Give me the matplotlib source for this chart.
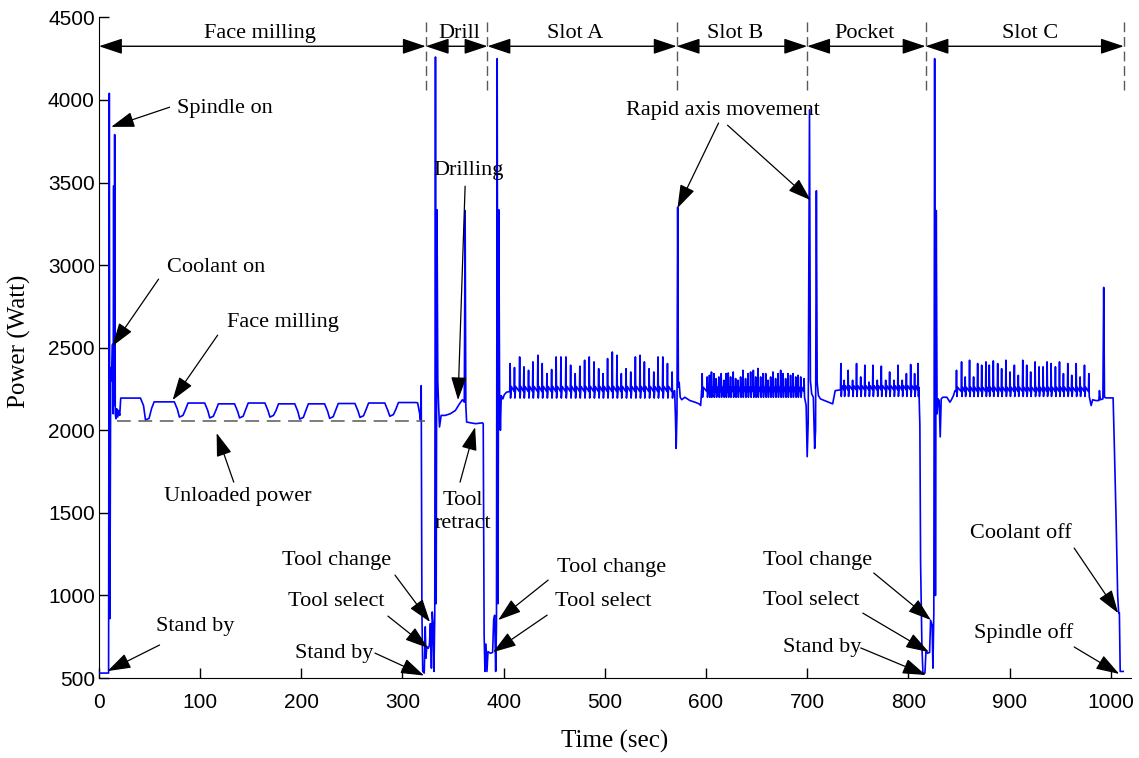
import matplotlib
matplotlib.use("Agg")
import matplotlib.pyplot as plt
import numpy as np

# ---- data (time in s, power in W) ----
startup = [(0, 530), (9.5, 530), (10.2, 4040), (10.8, 860), (11.6, 2380), (12.4, 2300),
           (13.4, 2520), (14.0, 2100), (14.5, 3480), (15.0, 2150), (15.5, 3790), (16.1, 2100),
           (16.8, 2070), (17.6, 2130), (18.5, 2080), (19.5, 2120), (20.5, 2090)]

fm_dip_t = [48, 81.5, 111.5, 141, 171, 200.5, 230, 260, 289.5]
fm_dip_p = [2062, 2080, 2075, 2075, 2080, 2068, 2072, 2078, 2085]
fm_level = [2195, 2172, 2165, 2160, 2165, 2160, 2160, 2162, 2165, 2168]
fm_t0, fm_t1 = 21.5, 313.5

drill_seg = [(315.0, 2165), (317.0, 2100), (317.8, 2060), (318.5, 2270), (319.2, 900), (320.0, 540),
             (321.5, 530), (322.5, 810), (323.2, 620), (324.0, 690), (325.6, 680), (326.6, 700),
             (327.6, 830), (328.6, 560), (329.4, 900), (330.3, 820), (331.1, 540), (331.9, 880),
             (332.6, 4260), (333.3, 950), (334.1, 3335), (334.9, 2300), (335.7, 2150), (336.6, 2020),
             (338.2, 2090), (342.2, 2090), (347.2, 2100), (352.3, 2120), (356.3, 2160), (359.3, 2185),
             (361.1, 2170), (361.9, 3330), (362.6, 2150), (363.4, 2050), (367.4, 2045), (372.4, 2040),
             (379.0, 2045), (379.8, 2040), (380.7, 760), (381.5, 540), (382.5, 706), (383.5, 540),
             (384.5, 660), (387.0, 650), (389.1, 655), (390.1, 850), (391.1, 880), (392.1, 540),
             (392.9, 820), (393.6, 4250), (394.4, 950), (395.2, 3335), (396.0, 2200), (396.8, 2000),
             (397.6, 2210), (399.2, 2190), (400.6, 2215), (402.7, 2230)]

slotA_t = [406.4, 410.7, 415.8, 420.0, 424.6, 428.9, 433.8, 438.1, 442.8, 447.4, 451.9, 456.6,
           461.5, 466.2, 470.7, 475.3, 480.0, 484.6, 489.3, 493.9, 498.2, 502.7, 507.4, 512.0,
           516.3, 521.0, 525.6, 530.2, 534.8, 539.1, 543.8, 548.4, 552.6, 557.3, 561.9, 566.5]
slotA_p = [2404, 2380, 2444, 2384, 2363, 2414, 2454, 2404, 2343, 2368, 2444, 2444,
           2444, 2394, 2343, 2388, 2424, 2444, 2414, 2373, 2343, 2434, 2474, 2454,
           2343, 2373, 2353, 2444, 2454, 2414, 2373, 2353, 2444, 2444, 2404, 2353]

a_to_b = [(567.4, 2230), (569.0, 2240), (569.8, 2080), (570.5, 1890), (571.3, 2100), (572.0, 3350),
          (572.7, 2260), (573.5, 2290), (574.5, 2200), (576.0, 2185), (579.1, 2200), (584.1, 2180),
          (589.1, 2170), (593.2, 2160), (594.7, 2150), (595.7, 2240)]

slotB_t = [596.2, 601.1, 603.4, 605.4, 607.8, 610.1, 612.7, 615.0, 617.6, 619.7, 622.0, 624.3,
           626.9, 629.3, 631.6, 634.2, 636.5, 639.1, 641.5, 644.1, 646.8, 649.1, 651.3, 654.0,
           656.4, 659.0, 661.3, 663.9, 666.2, 668.8, 671.2, 673.8, 676.1, 678.7, 681.0, 683.6,
           686.0, 688.7, 690.9, 693.6, 697.0]
slotB_p = [2343, 2323, 2333, 2353, 2343, 2313, 2323, 2343, 2303, 2343, 2347, 2323,
           2353, 2313, 2303, 2323, 2363, 2313, 2343, 2353, 2363, 2323, 2374, 2323,
           2343, 2343, 2303, 2323, 2353, 2313, 2343, 2363, 2343, 2313, 2343, 2333,
           2343, 2323, 2333, 2323, 2313]

b_to_pocket = [(699.0, 2150), (700.0, 1840), (701.0, 2050), (702.3, 3940), (703.2, 2300),
               (704.5, 2220), (706.1, 2200), (707.4, 1890), (708.3, 2000), (709.1, 3450),
               (709.9, 2290), (711.1, 2210), (713.1, 2190), (717.1, 2180), (721.2, 2170),
               (725.2, 2160), (727.7, 2240)]

pocket_t = [733.3, 736.6, 740.5, 744.9, 748.8, 752.9, 757.0, 761.1, 765.0, 769.3,
            773.3, 777.6, 781.5, 785.8, 789.8, 794.0, 798.1, 802.3, 806.2, 809.6]
pocket_p = [2404, 2303, 2363, 2303, 2404, 2323, 2394, 2292, 2394, 2303,
            2388, 2303, 2353, 2303, 2394, 2303, 2343, 2398, 2343, 2404]

pocket_to_c = [(810.4, 2260), (811.4, 2030), (812.1, 1200), (813.4, 700), (814.4, 530), (816.4, 530),
               (817.4, 660), (818.9, 650), (821.0, 655), (822.0, 850), (823.5, 820), (824.3, 560),
               (825.2, 900), (826.0, 4250), (826.8, 1000), (827.6, 3330), (828.4, 2100), (829.5, 2190),
               (830.5, 2180), (831.5, 1960), (832.5, 2190), (834.1, 2200), (838.1, 2200), (841.1, 2170),
               (842.6, 2185), (844.6, 2210), (846.1, 2240)]

slotC_t = [847.6, 852.6, 856.2, 860.5, 864.5, 868.5, 872.5, 876.7, 880.0, 884.0, 888.3,
           892.2, 896.5, 900.5, 904.8, 908.7, 913.1, 917.0, 920.9, 925.3, 929.2, 933.2,
           937.2, 941.1, 945.4, 949.4, 953.3, 957.6, 961.5, 965.9, 969.8, 974.1, 978.4]
slotC_p = [2363, 2414, 2323, 2424, 2323, 2404, 2394, 2414, 2394, 2420, 2404,
           2373, 2424, 2353, 2394, 2333, 2424, 2394, 2353, 2414, 2384, 2384,
           2414, 2404, 2384, 2414, 2343, 2404, 2333, 2404, 2323, 2394, 2343]

c_end = [(980.7, 2150), (982.2, 2185), (985.2, 2180), (988.3, 2180), (988.9, 2240), (989.8, 2185),
         (992.3, 2190), (993.1, 2865), (993.9, 2200), (995.3, 2196), (999.3, 2196), (1002.4, 2196),
         (1003.4, 1960), (1005.4, 1450), (1006.9, 1000), (1007.9, 895), (1008.6, 895),
         (1009.4, 540), (1012.4, 540)]

# section boundaries and names
bounds = [0, 323, 384, 571, 700, 817, 1013]
sections = ["Face milling", "Drill", "Slot A", "Slot B", "Pocket", "Slot C"]
section_x = [159, 356, 471, 629, 757, 920]


def spike_train(times, peaks, base, dip, bump):
    pts = []
    for i, (t, pk) in enumerate(zip(times, peaks)):
        pts += [(t - 0.4, base), (t, pk), (t + 0.4, dip)]
        if i < len(times) - 1:
            pts.append((t + 1.2, bump))
    return pts


def face_milling():
    pts = [(fm_t0, fm_level[0])]
    for i, (c, low) in enumerate(zip(fm_dip_t, fm_dip_p)):
        pts += [(c - 7, fm_level[i]), (c - 4, fm_level[i] - 45), (c - 2, low),
                (c + 1.5, low + 10), (c + 4, fm_level[i + 1] - 40), (c + 6.5, fm_level[i + 1])]
    pts.append((fm_t1, fm_level[-1]))
    return pts


trace = (startup + face_milling() + drill_seg
         + spike_train(slotA_t, slotA_p, 2235, 2195, 2265) + a_to_b
         + spike_train(slotB_t, slotB_p, 2235, 2200, 2260) + b_to_pocket
         + spike_train(pocket_t, pocket_p, 2245, 2205, 2270) + pocket_to_c
         + spike_train(slotC_t, slotC_p, 2235, 2205, 2260) + c_end)
t, p = np.array(trace).T

# ---- figure ----
serif = ["Liberation Serif", "DejaVu Serif"]
sans = ["Liberation Sans", "DejaVu Sans"]

fig = plt.figure(figsize=(11.39, 7.58), dpi=100)
ax = fig.add_axes([0.0869, 0.1055, 0.906, 0.8716])

ax.plot(t, p, color="#0000ff", lw=1.2, zorder=3)
ax.plot([17.5, 322], [2056, 2056], ls=(0, (9, 5)), color="0.35", lw=1.1, zorder=4)

ax.set_xlim(0, 1020)
ax.set_ylim(500, 4500)
ax.set_xticks(range(0, 1001, 100))
ax.set_yticks(range(500, 4501, 500))
for s in ["top", "right"]:
    ax.spines[s].set_visible(False)
ax.tick_params(direction="in", length=7, width=1)
ax.tick_params(axis="x", pad=11)
ax.tick_params(axis="y", pad=3)
for lab in ax.get_xticklabels() + ax.get_yticklabels():
    lab.set_family(sans)
    lab.set_fontsize(15)

ax.set_xlabel("Time (sec)", family=serif, fontsize=18)
ax.set_ylabel("Power (Watt)", family=serif, fontsize=18)
ax.xaxis.set_label_coords(0.5, -0.078)
ax.yaxis.set_label_coords(-0.066, 0.51)

# section markers
ax.vlines(bounds[1:], 4060, 4490, colors="0.35", lw=1, linestyles=(0, (7, 3.5)))
sec_arrow = dict(arrowstyle="<|-|>,head_length=0.9,head_width=0.3", color="k", lw=1,
                 shrinkA=0, shrinkB=0, mutation_scale=16)
for i, name in enumerate(sections):
    ax.annotate("", xy=(bounds[i + 1], 4325), xytext=(bounds[i], 4325), arrowprops=sec_arrow)
    ax.text(section_x[i], 4405, name, ha="center", va="center", family=serif, fontsize=16)

# callouts: text, text position, alignment, arrow start -> tip
arrow = dict(arrowstyle="-|>,head_length=0.9,head_width=0.3", color="k", lw=0.9,
             shrinkA=0, shrinkB=0, mutation_scale=16)
callouts = [
    ("Spindle on", (76.7, 3950), "left", [((69.8, 3956), (12.1, 3837))]),
    ("Coolant on", (66.8, 2988), "left", [((58.9, 2915), (13.4, 2510))]),
    ("Face milling", (126.2, 2655), "left", [((117.3, 2576), (72.8, 2183))]),
    ("Unloaded power", (137.1, 1602), "center", [((133.2, 1686), (116.3, 1983))]),
    ("Stand by", (95.5, 815), "center", [((59.9, 700), (8.4, 542))]),
    ("Drilling", (364.9, 3570), "center", [((361.9, 3478), (354.9, 2183))]),
    ("Tool\nretract", (359.9, 1505), "center", [((356.9, 1686), (371.8, 2019))]),
    ("Tool change", (288.6, 1214), "right", [((292.6, 1123), (327.2, 839))]),
    ("Tool select", (282.7, 966), "right", [((285.6, 875), (325.2, 682))]),
    ("Stand by", (270.8, 651), "right", [((272.8, 651), (321.3, 515))]),
    ("Tool change", (453, 1172), "left", [((444, 1093), (394.6, 851))]),
    ("Tool select", (451, 966), "left", [((443, 881), (389.6, 657))]),
    ("Rapid axis movement", (616.8, 3938), "center",
     [((612.4, 3860), (571.8, 3345)), ((621.3, 3847), (703.5, 3393))]),
    ("Tool change", (656, 1214), "left", [((765.8, 1136), (822.3, 851))]),
    ("Tool select", (656, 972), "left", [((755, 893), (820.3, 657))]),
    ("Stand by", (675.7, 682), "left", [((753, 682), (817.3, 518))]),
    ("Coolant off", (861, 1378), "left", [((963.9, 1287), (1007.4, 893))]),
    ("Spindle off", (865, 772), "left", [((963.9, 688), (1008.4, 525))]),
]
for text, pos, ha, arrows in callouts:
    ax.text(pos[0], pos[1], text, ha=ha, va="center", family=serif, fontsize=16,
            linespacing=1.35, zorder=5)
    for start, tip in arrows:
        ax.annotate("", xy=tip, xytext=start, arrowprops=arrow, zorder=6)

fig.savefig("out.png", dpi=100)
